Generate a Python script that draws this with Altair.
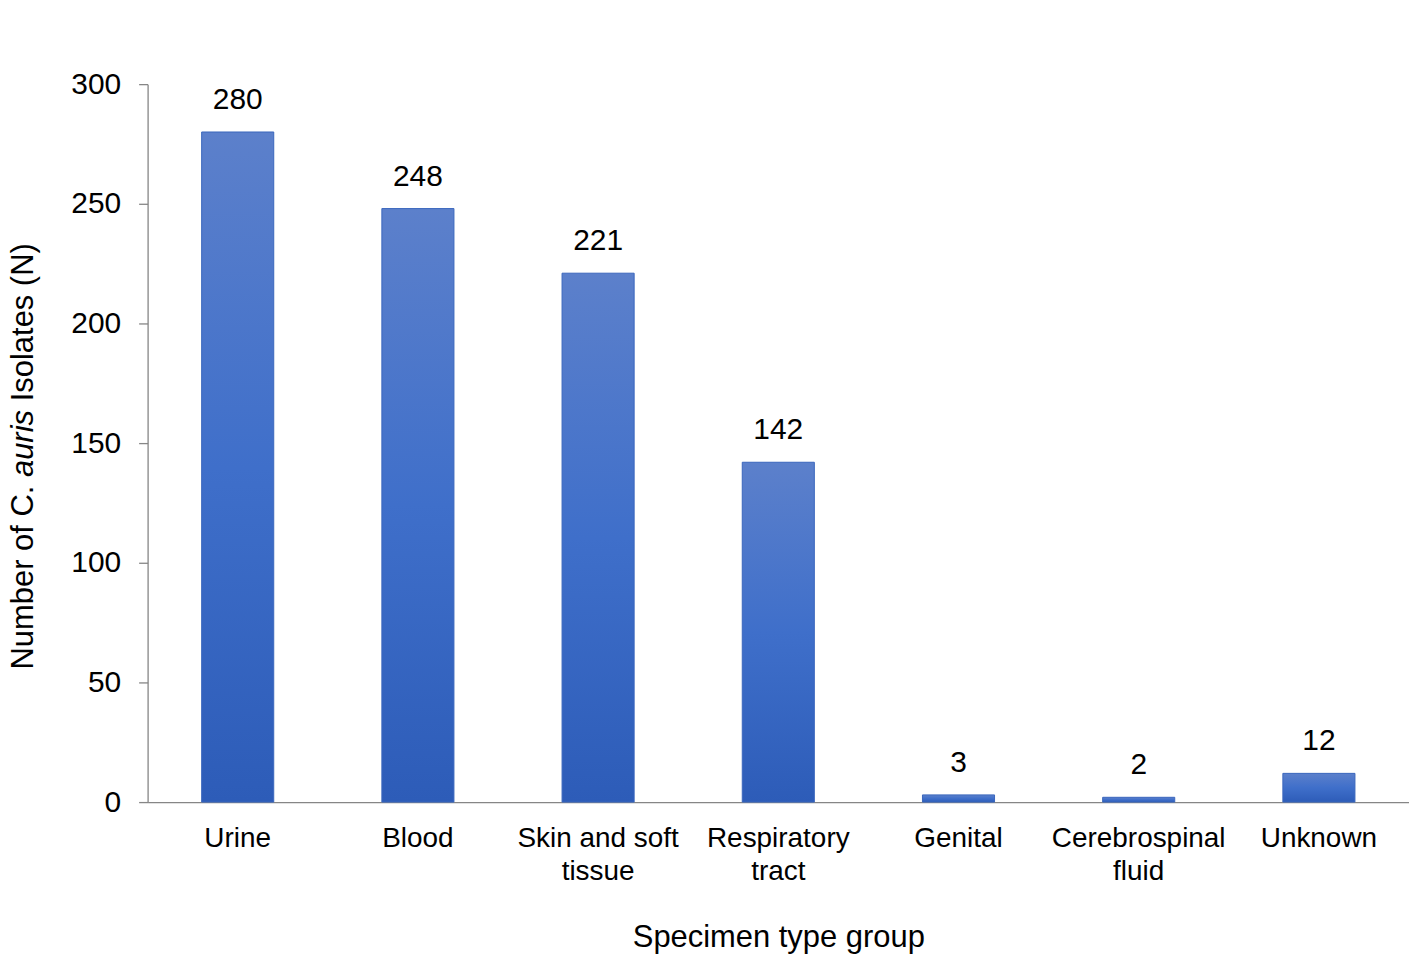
import altair as alt
import pandas as pd

categories = ["Urine", "Blood", "Skin and soft tissue", "Respiratory tract",
              "Genital", "Cerebrospinal fluid", "Unknown"]
label_lines = [["Urine"], ["Blood"], ["Skin and soft", "tissue"], ["Respiratory", "tract"],
               ["Genital"], ["Cerebrospinal", "fluid"], ["Unknown"]]
counts = [280, 248, 221, 142, 3, 2, 12]
y_ticks = [0, 50, 100, 150, 200, 250, 300]

df = pd.DataFrame({"cat": categories, "n": counts})

label_expr = "{" + ", ".join(
    f"'{c}': [{', '.join(repr(l) for l in ls)}]" for c, ls in zip(categories, label_lines)
) + "}[datum.value]"

FONT = "Liberation Sans"
AXIS_GRAY = "#868686"

grad = alt.Gradient(
    gradient="linear",
    stops=[alt.GradientStop(color="#5c80cb", offset=0),
           alt.GradientStop(color="#3f6fca", offset=0.5),
           alt.GradientStop(color="#2d5cb8", offset=1)],
    x1=0, x2=0, y1=0, y2=1,
)

x_enc = alt.X("cat:N", sort=categories,
              scale=alt.Scale(paddingInner=0.6, paddingOuter=0.3),
              axis=alt.Axis(title="Specimen type group", labelExpr=label_expr,
                            labelAngle=0, ticks=False, labelPadding=23,
                            labelFontSize=28, labelFont=FONT, labelColor="#000000",
                            labelLineHeight=33, grid=False,
                            titleFontSize=31, titleFont=FONT, titleFontWeight="normal",
                            titleColor="#000000", titlePadding=37,
                            domainColor=AXIS_GRAY, domainWidth=1.3))
y_enc = alt.Y("n:Q", scale=alt.Scale(domain=[0, 300], nice=False),
              axis=alt.Axis(title=None, values=y_ticks, grid=False,
                            tickSize=9, tickColor=AXIS_GRAY, tickWidth=1.3,
                            domainColor=AXIS_GRAY, domainWidth=1.3,
                            labelFontSize=30, labelFont=FONT, labelColor="#000000",
                            labelPadding=18))

base = alt.Chart(df)

bars = base.mark_bar(color=grad, stroke="#3a66bd", strokeWidth=1).encode(x=x_enc, y=y_enc)

labels = base.mark_text(baseline="alphabetic", dy=-23, fontSize=30, font=FONT,
                        color="#000000").encode(
    x=alt.X("cat:N", sort=categories), y="n:Q", text="n:Q")

def title_piece(txt, ypos, italic=False):
    return alt.Chart(alt.Data(values=[{}])).mark_text(
        angle=270, align="left", baseline="middle", fontSize=31, font=FONT,
        fontStyle="italic" if italic else "normal", color="#000000"
    ).encode(x=alt.value(-124), y=alt.value(ypos), text=alt.value(txt))

ytitle = (title_piece("Number of C.", 587)
          + title_piece("auris", 394, italic=True)
          + title_piece("Isolates (N)", 318))

chart = alt.layer(bars, labels, ytitle).properties(
    width=1265, height=720, background="white",
    padding={"left": 0, "top": 60, "right": 0, "bottom": 0},
).configure_view(stroke=None)

chart.save("out.html", embed_options={"renderer": "svg", "actions": False})
